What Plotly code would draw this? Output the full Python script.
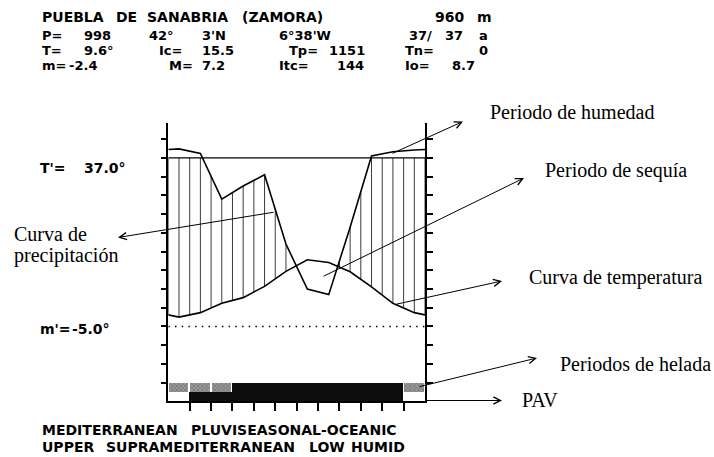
import numpy as np
import plotly.graph_objects as go

# ---------------- data ----------------
months = ["Jan", "Feb", "Mar", "Apr", "May", "Jun", "Jul", "Aug", "Sep", "Oct", "Nov", "Dec"]
temp_c = [2.5, 3.7, 6.2, 7.7, 10.7, 14.7, 17.8, 17.1, 14.6, 10.6, 6.2, 3.7]      # monthly mean T (°C)
precip_mm = [138, 114, 68, 75, 81, 44, 20, 17, 53, 100, 123, 132]             # monthly P (mm)
frost_row = ["p", "p", "p", "s", "s", "s", "s", "s", "s", "s", "s", "p"]      # p = stippled, s = solid
pav_row = [0, 1, 1, 1, 1, 1, 1, 1, 1, 1, 1, 0]                                # 1 = dark cell

P_THRESHOLD = 90     # mm, level of the horizontal reference line (P = 2T scale)
T_REF_LINE = 0       # dotted reference line

# header / footer words: (text, left x in px)
header = [
    (16.7, 14, [("PUEBLA", 40), ("DE", 113.5), ("SANABRIA", 145), ("(ZAMORA)", 239.5), ("960", 433), ("m", 475)]),
    (35.8, 13, [("P=", 40), ("998", 81.7), ("42°", 146.7), ("3'N", 200), ("6°38'W", 276.7),
                ("37/", 406.7), ("37", 443.3), ("a", 477)]),
    (50.8, 13, [("T=", 40), ("9.6°", 81.7), ("Ic=", 156.7), ("15.5", 200), ("Tp=", 286.7),
                ("1151", 326.7), ("Tn=", 403.3), ("0", 477)]),
    (65.8, 13, [("m=", 40), ("-2.4", 67), ("M=", 166.7), ("7.2", 200), ("Itc=", 276.7),
                ("144", 335), ("Io=", 403.3), ("8.7", 450)]),
]
footer = [
    (430.0, [("MEDITERRANEAN", 40), ("PLUVISEASONAL-OCEANIC", 189.2)]),
    (446.7, [("UPPER", 40), ("SUPRAMEDITERRANEAN", 104), ("LOW", 306.5), ("HUMID", 349)]),
]
side_labels = [
    (167.5, [("T'=", 38), ("37.0°", 81.7)]),
    (329.0, [("m'=", 38), ("-5.0°", 70)]),
]

W, H = 714, 457
OFF = 0  # body margin removed in the page


def p_to_y(p):
    p = np.asarray(p, dtype=float)
    return np.where(p <= P_THRESHOLD, p / 2.0, P_THRESHOLD / 2.0 + (p - P_THRESHOLD) / 20.0)


centers = np.arange(12) + 0.5
t_y = np.array(temp_c, dtype=float)
p_y = p_to_y(precip_mm)
line_y = float(p_to_y(P_THRESHOLD))

# extend curves to the axes (Dec/Jan midpoint)
xe = np.concatenate([[0.0], centers, [12.0]])
te = np.concatenate([[(t_y[0] + t_y[-1]) / 2], t_y, [(t_y[0] + t_y[-1]) / 2]])
pe = np.concatenate([[(p_y[0] + p_y[-1]) / 2], p_y, [(p_y[0] + p_y[-1]) / 2]])

fig = go.Figure()

# frost periods row
stip = [i for i, f in enumerate(frost_row) if f == "p"]
solid = [i for i, f in enumerate(frost_row) if f == "s"]
fig.add_trace(go.Bar(x=centers[stip], y=[2.5] * len(stip), base=-17.5, width=0.9,
                     marker=dict(color="#8c8c8c", line=dict(width=0),
                                 pattern=dict(shape="x", fgcolor="#333333", bgcolor="#9a9a9a",
                                              size=3, solidity=0.35))))
fig.add_trace(go.Bar(x=centers[solid], y=[2.5] * len(solid), base=-17.5, width=1.0,
                     marker=dict(color="#0c0c0c", line=dict(width=0))))
# PAV row
pav_on = [i for i, v in enumerate(pav_row) if v]
fig.add_trace(go.Bar(x=centers[pav_on], y=[2.5] * len(pav_on), base=-20, width=1.0,
                     marker=dict(color="#0c0c0c", line=dict(width=0))))

# hatching of the humid period
hx, hy = [], []
for k in range(25):
    x = k / 2.0
    tv = np.interp(x, xe, te)
    pv = np.interp(x, xe, pe)
    if pv > tv:
        hx += [x, x, None]
        hy += [tv, min(pv, line_y), None]
fig.add_trace(go.Scatter(x=hx, y=hy, mode="lines", line=dict(color="#3c3c3c", width=1),
                         hoverinfo="skip"))

# reference lines
fig.add_trace(go.Scatter(x=[0, 12], y=[line_y, line_y], mode="lines",
                         line=dict(color="black", width=1.2), hoverinfo="skip"))
fig.add_trace(go.Scatter(x=[0, 12], y=[T_REF_LINE, T_REF_LINE], mode="lines",
                         line=dict(color="black", width=1.5, dash="1.5px,5.2px"), hoverinfo="skip"))

# curves
fig.add_trace(go.Scatter(x=xe, y=pe, mode="lines", line=dict(color="black", width=1.6), name="P"))
fig.add_trace(go.Scatter(x=xe, y=te, mode="lines", line=dict(color="black", width=1.6), name="T"))

mono_family = "DejaVu Sans"
serif = dict(family="Liberation Serif", size=20, color="black")


def px(x, y):
    return (x - OFF) / W, 1 - (y - OFF) / H


ann = []


def add_words(yc, size, words):
    for txt, x in words:
        xx, yy = px(x, yc)
        ann.append(dict(x=xx, y=yy, xref="paper", yref="paper", text=txt, showarrow=False,
                        xanchor="left", yanchor="middle",
                        font=dict(family=mono_family, size=size, color="black", weight="bold")))


for yc, size, words in header:
    add_words(yc, size, words)
for yc, words in footer:
    add_words(yc, 14, words)
for yc, words in side_labels:
    add_words(yc, 14, words)

labels = [
    ("Periodo de humedad", 488, 111.7),
    ("Periodo de sequía", 543, 170.7),
    ("Curva de temperatura", 527, 277.5),
    ("Periodos de helada", 558, 364.0),
    ("PAV", 520, 400.0),
    ("Curva de", 12, 234.0),
    ("precipitación", 12, 255.0),
]
for txt, x, y in labels:
    xx, yy = px(x, y)
    ann.append(dict(x=xx, y=yy, xref="paper", yref="paper", text=txt, showarrow=False,
                    xanchor="left", yanchor="middle", font=serif))

arrows = [
    ((391, 154), (463, 121.5)),
    ((322, 277), (524, 178)),
    ((395, 304.5), (502, 281)),
    ((418, 387), (537, 358)),
    ((425, 400.5), (502, 400.5)),
    ((275, 212), (118, 237.5)),
]
for (tx, ty), (hx_, hy_) in arrows:
    xx, yy = px(hx_, hy_)
    ann.append(dict(x=xx, y=yy, xref="paper", yref="paper", text="", showarrow=True,
                    ax=tx - hx_, ay=ty - hy_, axref="pixel", ayref="pixel",
                    arrowhead=5, arrowsize=1.4, arrowwidth=1, arrowcolor="black",
                    standoff=0, startstandoff=0))

fig.update_layout(
    width=W, height=H, margin=dict(l=0, r=0, t=0, b=0),
    paper_bgcolor="white", plot_bgcolor="white", showlegend=False,
    barmode="overlay", bargap=0,
    annotations=ann,
    xaxis=dict(domain=[(168.3 - OFF) / W, (425 - OFF) / W], range=[0, 12], showline=True,
               linecolor="black", linewidth=1.5, mirror=False, ticks="outside",
               tickvals=list(range(1, 12)), ticklen=8, tickwidth=1.5, tickcolor="black",
               showticklabels=False, showgrid=False, zeroline=False, fixedrange=True),
    yaxis=dict(domain=[1 - (401.4 - OFF) / H, 1 - (122.7 - OFF) / H], range=[-20, 54.4],
               showline=True, linecolor="black", linewidth=1.5, mirror="ticks", ticks="outside",
               tickvals=list(range(-15, 51, 5)), ticklen=6, tickwidth=1.5, tickcolor="black",
               showticklabels=False, showgrid=False, zeroline=False, fixedrange=True),
)

fig.write_html("out.html", config={"displayModeBar": False},
               post_script="document.body.style.margin='0';document.body.style.overflow='hidden';")
